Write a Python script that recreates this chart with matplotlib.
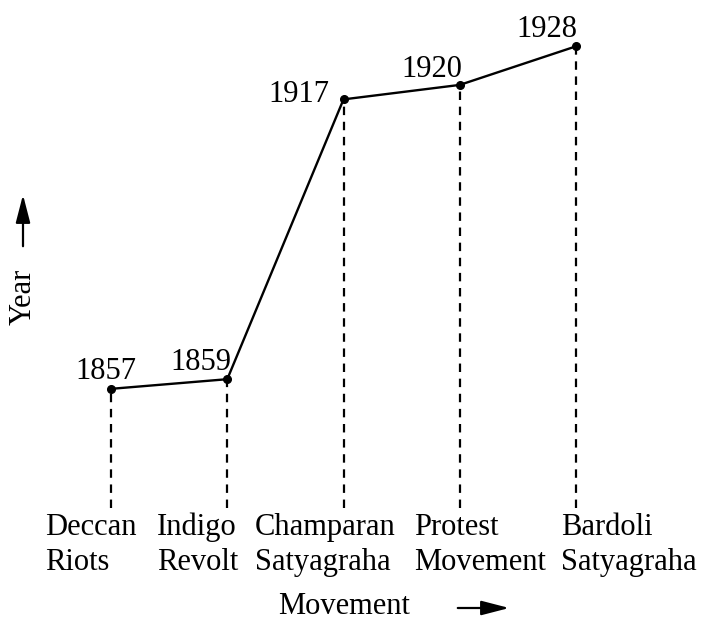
import matplotlib
matplotlib.use("Agg")
import matplotlib.pyplot as plt
import matplotlib.transforms as mtransforms

# ---- data ----
movements = ["Deccan\nRiots", "Indigo\nRevolt", "Champaran\nSatyagraha",
             "Protest\nMovement", "Bardoli\nSatyagraha"]
years = [1857, 1859, 1917, 1920, 1928]
year_labels = ["1857", "1859", "1917", "1920", "1928"]
x_title = "Movement"
y_title = "Year"

# ---- layout (pixels) ----
W, H = 704, 619
FONT = "Liberation Serif"
FS = 22
# offsets (right edge, baseline) for year labels relative to point, pixels
year_offsets = [(25, 10), (4, 9), (-14, -3), (2, 8), (1, 9)]
# offsets of category label left edge relative to point x, pixels
cat_dx = [-66, -70, -89, -46, -15]
cat_baselines = [-27, -62]  # relative to bottom of dashed lines, pixels

fig = plt.figure(figsize=(W / 100, H / 100), dpi=100)
ax = fig.add_axes([0, (H - 508) / H, 1, 508 / H])
ax.set_xlim(-0.955, 5.101)
ax.set_ylim(1832.3, 1937.6)
ax.axis("off")

xs = list(range(len(years)))
ax.plot(xs, years, color="black", lw=1.7, marker="o", markersize=5.5,
        solid_joinstyle="round", zorder=3)
ax.vlines(xs, ax.get_ylim()[0], years, colors="black", lw=1.6,
          linestyles=(0, (3.8, 3.0)), zorder=2)

for i, (x, y) in enumerate(zip(xs, years)):
    dx, dy = year_offsets[i]
    ax.annotate(year_labels[i], xy=(x, y), xytext=(dx, dy),
                textcoords="offset pixels", ha="right", va="baseline",
                fontsize=FS, family=FONT)

trans = mtransforms.blended_transform_factory(ax.transData, ax.transAxes)
for i, x in enumerate(xs):
    lines = movements[i].split("\n")
    for j, line in enumerate(lines):
        ax.annotate(line, xy=(x, 0), xycoords=trans,
                    xytext=(cat_dx[i], cat_baselines[j]),
                    textcoords="offset pixels", ha="left", va="baseline",
                    fontsize=FS, family=FONT, annotation_clip=False)

# axis titles with arrows
arrow_style = "-|>,head_length=0.85,head_width=0.22"
fig.text(23 / W, 1 - 297 / H, y_title, rotation=90, ha="center", va="center",
         fontsize=FS, family=FONT)
fig.add_artist(matplotlib.patches.FancyArrowPatch(
    (23 / W, 1 - 249 / H), (23 / W, 1 - 192 / H), transform=fig.transFigure,
    arrowstyle=arrow_style, mutation_scale=20,
    lw=1.6, color="black"))

fig.text(344 / W, 1 - 606 / H, x_title, ha="center", va="center",
         fontsize=FS, family=FONT)
fig.add_artist(matplotlib.patches.FancyArrowPatch(
    (455 / W, 1 - 608 / H), (512 / W, 1 - 608 / H), transform=fig.transFigure,
    arrowstyle=arrow_style, mutation_scale=20,
    lw=1.6, color="black"))

fig.savefig("out.png", dpi=100)
